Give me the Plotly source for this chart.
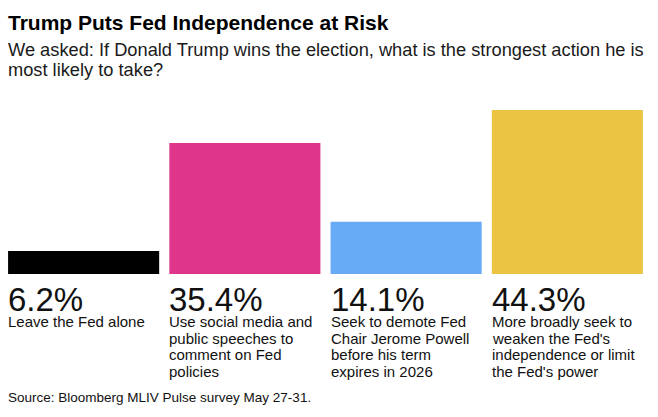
import plotly.graph_objects as go

# Data
categories = ["Leave the Fed alone",
              "Use social media and public speeches to comment on Fed policies",
              "Seek to demote Fed Chair Jerome Powell before his term expires in 2026",
              "More broadly seek to weaken the Fed's independence or limit the Fed's power"]
values = [6.2, 35.4, 14.1, 44.3]
value_labels = ["6.2%", "35.4%", "14.1%", "44.3%"]
label_lines = [
    ["Leave the Fed alone"],
    ["Use social media and", "public speeches to", "comment on Fed", "policies"],
    ["Seek to demote Fed", "Chair Jerome Powell", "before his term", "expires in 2026"],
    ["More broadly seek to", "weaken the Fed's", "independence or limit", "the Fed's power"],
]
colors = ["#000000", "#DF358A", "#67AAF5", "#ECC443"]

title = "Trump Puts Fed Independence at Risk"
subtitle_lines = ["We asked: If Donald Trump wins the election, what is the strongest action he is",
                  "most likely to take?"]
source = "Source: Bloomberg MLIV Pulse survey May 27-31."

FONT = "Liberation Sans, Arial, Helvetica, sans-serif"
W, H = 658, 417
ML, MR, MT, MB = 3, 10, 110, 143
PH = H - MT - MB
PW = W - ML - MR
BW = 0.937

def py(Y):
    return (H - MB - Y) / PH

def px(X):
    return (X - ML) / PW

xs = list(range(len(values)))

fig = go.Figure(go.Bar(
    x=xs, y=values, width=BW, marker=dict(color=colors, line=dict(width=0)),
    hoverinfo="skip", showlegend=False,
))

ann = []
ann.append(dict(text="<b>" + title + "</b>", xref="paper", yref="paper", x=px(7), y=py(22),
                xanchor="left", yanchor="middle", showarrow=False, borderpad=0,
                font=dict(family=FONT, size=21, color="#000000")))
for k, line in enumerate(subtitle_lines):
    ann.append(dict(text=line, xref="paper", yref="paper", x=px(7), y=py(50 + 19.5 * k),
                    xanchor="left", yanchor="middle", showarrow=False, borderpad=0,
                    font=dict(family=FONT, size=18.25, color="#1a1a1a")))
for i, (v, lab) in enumerate(zip(value_labels, label_lines)):
    ann.append(dict(text=v, xref="x", yref="paper", x=i - BW / 2, y=py(299.5),
                    xanchor="left", yanchor="middle", showarrow=False, borderpad=0,
                    xshift=-1,
                    font=dict(family=FONT, size=33, color="#111111")))
    for k, line in enumerate(lab):
        ann.append(dict(text=line, xref="x", yref="paper", x=i - BW / 2, y=py(321.6 + 16.5 * k),
                        xanchor="left", yanchor="middle", showarrow=False, borderpad=0,
                        xshift=-1,
                        font=dict(family=FONT, size=15, color="#111111")))
ann.append(dict(text=source, xref="paper", yref="paper", x=px(7), y=py(397.5),
                xanchor="left", yanchor="middle", showarrow=False, borderpad=0,
                font=dict(family=FONT, size=13.5, color="#111111")))

fig.update_layout(
    width=W, height=H,
    margin=dict(l=ML, r=MR, t=MT, b=MB, pad=0),
    paper_bgcolor="white", plot_bgcolor="white",
    xaxis=dict(range=[-0.5, 3.5], visible=False, fixedrange=True),
    yaxis=dict(range=[0, 44.3], visible=False, fixedrange=True),
    annotations=ann,
    font=dict(family=FONT),
)

fig.write_html("out.html", config={"displayModeBar": False},
               post_script="document.body.style.margin='0px';document.body.style.overflow='hidden';")
